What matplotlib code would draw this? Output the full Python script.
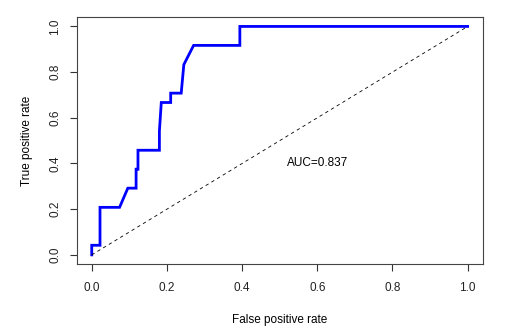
import numpy as np
import matplotlib
matplotlib.use("Agg")
import matplotlib.pyplot as plt

# ROC curve points
fpr = [0.0, 0.0, 0.022, 0.022, 0.074, 0.096, 0.118, 0.118, 0.123, 0.123,
       0.18, 0.18, 0.185, 0.21, 0.21, 0.238, 0.245, 0.271, 0.394, 0.394, 1.0]
tpr = [0.0, 0.042, 0.042, 0.208, 0.208, 0.292, 0.292, 0.375, 0.375, 0.458,
       0.458, 0.542, 0.667, 0.667, 0.708, 0.708, 0.833, 0.917, 0.917, 1.0, 1.0]
auc = 0.837
ticks = [0.0, 0.2, 0.4, 0.6, 0.8, 1.0]

plt.rcParams['font.family'] = ['Liberation Sans', 'DejaVu Sans']

fig = plt.figure(figsize=(5.19, 3.35), dpi=100)
ax = fig.add_axes([76.7 / 519, 1 - 264 / 335, (482.7 - 76.7) / 519, (264 - 17.3) / 335])

ax.plot(fpr, tpr, color='#0000ff', lw=2.0, solid_joinstyle='miter')
ax.plot([0, 1], [0, 1], color='black', lw=0.6, ls=(0, (4, 4)))
ax.text(0.6, 0.4, f"AUC={auc}", ha='center', va='center', fontsize=8.5)

ax.set_xlim(-0.04, 1.04)
ax.set_ylim(-0.04, 1.04)
ax.set_xticks(ticks)
ax.set_yticks(ticks)
ax.set_xticklabels([f"{t:.1f}" for t in ticks], fontsize=8.5, color='#222222')
ax.set_yticklabels([f"{t:.1f}" for t in ticks], fontsize=8.5, rotation=90, va='center',
                   color='#222222')
ax.tick_params(axis='x', length=5, width=0.8, color='#333333', pad=8)
ax.tick_params(axis='y', length=5, width=0.8, color='#333333', pad=6)
for s in ax.spines.values():
    s.set_color('#444444')
    s.set_linewidth(0.8)
ax.set_xlabel("False positive rate", fontsize=8.5, labelpad=14)
ax.set_ylabel("True positive rate", fontsize=8.5, labelpad=12)

fig.savefig("out.png", dpi=100)
